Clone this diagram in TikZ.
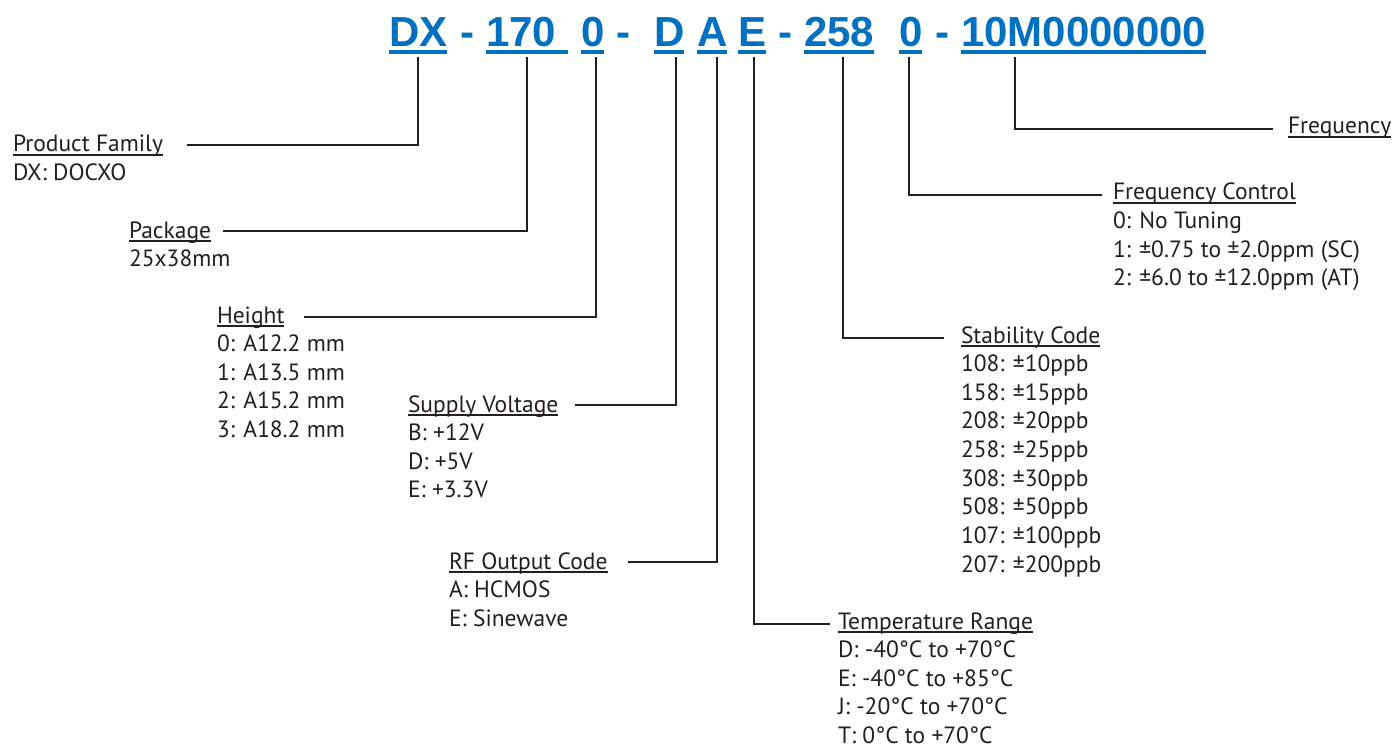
\documentclass[tikz,border=0pt]{standalone}
\usepackage{fontspec}
\setmainfont{PT Sans}
\newfontfamily\hdrfont{Liberation Sans}
\definecolor{codeblue}{HTML}{0070C0}
\definecolor{inkc}{HTML}{231F20}
\newcommand\hul[1]{\setbox0\hbox{#1}\rlap{\rule[-3.6pt]{\wd0}{1.4pt}}\box0}
\newcommand\lblock[2]{\begin{tabular}[t]{@{}l@{}}\hul{#1}#2\end{tabular}}
\begin{document}
\begin{tikzpicture}[x=1pt,y=-1pt,
  conn/.style={draw=inkc,line width=2.4pt},
  tok/.style={anchor=base west,inner sep=0pt,outer sep=0pt,text=codeblue,
    font=\hdrfont\bfseries\fontsize{42}{42}\selectfont},
  lbl/.style={anchor=base west,inner sep=0pt,outer sep=0pt,text=inkc,
    font=\fontsize{23.5}{28.65}\selectfont}]
\useasboundingbox[fill=white] (0,0) rectangle (1397,746);
% header tokens
\node[tok] (tDX) at (389,47) {DX};
\node[tok] (h1) at (460,47) {-};
\node[tok] (t170) at (486,47) {170\kern.278em};
\node[tok] (t0a) at (581,47) {0};
\node[tok] (h2) at (616,47) {-};
\node[tok] (tD) at (654,47) {D};
\node[tok] (tA) at (697,47) {A};
\node[tok] (tE) at (738,47) {E};
\node[tok] (h3) at (778,47) {-};
\node[tok] (t258) at (804,47) {258};
\node[tok] (t0b) at (899,47) {0};
\node[tok] (h4) at (935,47) {-};
\node[tok] (tF) at (961,47) {10M0000000};
\foreach \t in {tDX,t170,t0a,tD,tA,tE,t258,t0b,tF}
  \fill[codeblue] ([yshift=-3.2pt]\t.base west) rectangle ([yshift=-7pt]\t.base east);
% labels
\node[lbl] (pf) at (13,152) {\lblock{Product Family}{\\DX: DOCXO}};
\node[lbl] (pk) at (129,238) {\lblock{Package}{\\25x38mm}};
\node[lbl] (ht) at (217,323) {\lblock{Height}{\\0: A12.2 mm\\1: A13.5 mm\\2: A15.2 mm\\3: A18.2 mm}};
\node[lbl] (sv) at (408,412) {\lblock{Supply Voltage}{\\B: +12V\\D: +5V\\E: +3.3V}};
\node[lbl] (rf) at (449,569) {\lblock{RF Output Code}{\\A: HCMOS\\E: Sinewave}};
\node[lbl] (tr) at (838,629) {\lblock{Temperature Range}{\\D: -40°C to +70°C\\E: -40°C to +85°C\\J: -20°C to +70°C\\T: 0°C to +70°C}};
\node[lbl] (sc) at (961,343) {\lblock{Stability Code}{\\108: ±10ppb\\158: ±15ppb\\208: ±20ppb\\258: ±25ppb\\308: ±30ppb\\508: ±50ppb\\107: ±100ppb\\207: ±200ppb}};
\node[lbl] (fc) at (1113,200) {\lblock{Frequency Control}{\\0: No Tuning\\1: ±0.75 to ±2.0ppm (SC)\\2: ±6.0 to ±12.0ppm (AT)}};
\node[lbl] (fr) at (1288,134) {\lblock{Frequency}{}};
% connector ends
\coordinate (s1) at (418,57);  \coordinate (e1) at (187,145);
\coordinate (s2) at (527,57);  \coordinate (e2) at (223,231);
\coordinate (s3) at (596,57);  \coordinate (e3) at (304,317);
\coordinate (s4) at (676,57);  \coordinate (e4) at (575,405);
\coordinate (s5) at (717,57);  \coordinate (e5) at (628,562);
\coordinate (s6) at (754,57);  \coordinate (e6) at (830,624);
\coordinate (s7) at (843,57);  \coordinate (e7) at (944,338);
\coordinate (s8) at (909,57);  \coordinate (e8) at (1102,195);
\coordinate (s9) at (1015,57); \coordinate (e9) at (1273,129);
\foreach \i in {1,...,9} \draw[conn] (s\i) |- (e\i);
\end{tikzpicture}
\end{document}
